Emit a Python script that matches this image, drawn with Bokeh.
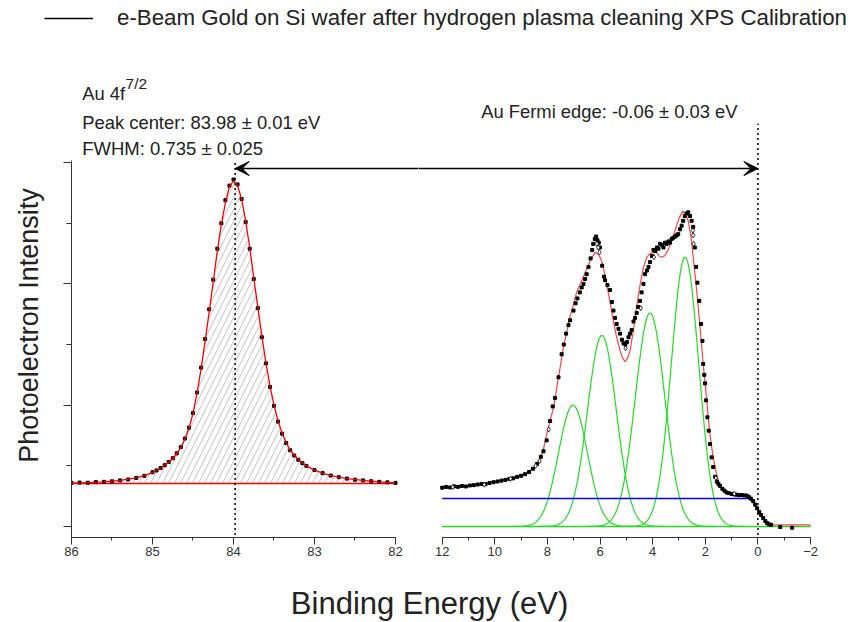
import numpy as np
from bokeh.plotting import figure
from bokeh.models import (Range1d, SingleIntervalTicker, Label, Arrow, VeeHead,
                          Legend, LegendItem)
from bokeh.layouts import column, row
from bokeh.embed import file_html
from bokeh.resources import INLINE

FONT = "Liberation Sans"
AXC = "#333333"

# ---------------- data ----------------
legend_label = "e-Beam Gold on Si wafer after hydrogen plasma cleaning XPS Calibration"

# Au 4f7/2 measured points (binding energy eV, intensity a.u.)
au4f_data = [(86.00, 0.360), (85.90, 0.362), (85.80, 0.361), (85.70, 0.366), (85.60, 0.368),
             (85.50, 0.372), (85.40, 0.380), (85.30, 0.388), (85.20, 0.400), (85.10, 0.418),
             (85.00, 0.447), (84.95, 0.462), (84.90, 0.482), (84.85, 0.505), (84.80, 0.532),
             (84.75, 0.563), (84.70, 0.603), (84.65, 0.655), (84.60, 0.725), (84.55, 0.815),
             (84.50, 0.935), (84.45, 1.105), (84.40, 1.310), (84.35, 1.545), (84.30, 1.790),
             (84.25, 2.035), (84.20, 2.290), (84.15, 2.500), (84.10, 2.690), (84.05, 2.810),
             (84.00, 2.860), (83.95, 2.820), (83.90, 2.700), (83.85, 2.510), (83.80, 2.290),
             (83.75, 2.040), (83.70, 1.800), (83.65, 1.560), (83.60, 1.345), (83.55, 1.150),
             (83.50, 0.995), (83.45, 0.865), (83.40, 0.765), (83.35, 0.688), (83.30, 0.628),
             (83.25, 0.585), (83.20, 0.550), (83.15, 0.522), (83.10, 0.500), (83.00, 0.466),
             (82.90, 0.440), (82.80, 0.420), (82.70, 0.406), (82.60, 0.395), (82.50, 0.386),
             (82.40, 0.380), (82.30, 0.373), (82.20, 0.368), (82.10, 0.364), (82.00, 0.360)]

# Au 4f7/2 fit curve (red)
au4f_fit = [(86.0, 0.357), (85.8, 0.362), (85.6, 0.368), (85.4, 0.380), (85.2, 0.400),
            (85.1, 0.420), (85.0, 0.445), (84.9, 0.480), (84.8, 0.530), (84.75, 0.560),
            (84.7, 0.600), (84.65, 0.650), (84.6, 0.720), (84.55, 0.810), (84.5, 0.930),
            (84.45, 1.100), (84.4, 1.300), (84.35, 1.530), (84.3, 1.770), (84.25, 2.020),
            (84.2, 2.270), (84.15, 2.490), (84.1, 2.670), (84.05, 2.800), (84.0, 2.850),
            (83.95, 2.810), (83.9, 2.700), (83.85, 2.520), (83.8, 2.300), (83.75, 2.050),
            (83.7, 1.810), (83.65, 1.570), (83.6, 1.350), (83.55, 1.160), (83.5, 1.000),
            (83.45, 0.870), (83.4, 0.770), (83.35, 0.690), (83.3, 0.630), (83.2, 0.550),
            (83.1, 0.500), (83.0, 0.465), (82.9, 0.440), (82.8, 0.420), (82.6, 0.395),
            (82.4, 0.380), (82.2, 0.368), (82.0, 0.360)]
au4f_baseline = 0.355
au4f_center = 83.98

# Valence band measured points
vb_data = [(12.00, 0.320), (11.85, 0.326), (11.70, 0.322), (11.55, 0.331), (11.40, 0.327),
           (11.25, 0.334), (11.10, 0.330), (10.95, 0.338), (10.80, 0.341), (10.65, 0.346),
           (10.50, 0.351), (10.35, 0.349), (10.20, 0.359), (10.05, 0.365), (9.90, 0.371),
           (9.75, 0.378), (9.60, 0.384), (9.45, 0.392), (9.30, 0.397), (9.15, 0.409),
           (9.00, 0.418), (8.85, 0.431), (8.70, 0.449), (8.55, 0.476), (8.40, 0.515),
           (8.25, 0.575), (8.15, 0.620), (8.03, 0.710), (7.90, 0.870), (7.80, 0.990),
           (7.71, 1.060), (7.58, 1.230), (7.46, 1.420), (7.38, 1.500), (7.29, 1.590),
           (7.20, 1.660), (7.14, 1.700), (7.01, 1.780), (6.93, 1.840), (6.86, 1.880),
           (6.77, 1.930), (6.70, 1.970), (6.63, 2.000), (6.57, 2.040), (6.51, 2.080),
           (6.44, 2.140), (6.36, 2.210), (6.30, 2.280), (6.26, 2.330), (6.20, 2.370),
           (6.15, 2.390), (6.10, 2.360), (6.05, 2.340), (6.00, 2.300), (5.92, 2.150),
           (5.85, 2.060), (5.81, 2.030), (5.72, 1.990), (5.62, 1.950), (5.55, 1.850),
           (5.49, 1.780), (5.43, 1.720), (5.37, 1.670), (5.30, 1.630), (5.24, 1.590),
           (5.17, 1.540), (5.11, 1.510), (5.04, 1.500), (4.98, 1.520), (4.92, 1.560),
           (4.86, 1.590), (4.80, 1.620), (4.73, 1.690), (4.67, 1.720), (4.61, 1.760),
           (4.55, 1.810), (4.48, 1.860), (4.42, 1.930), (4.35, 2.000), (4.29, 2.080),
           (4.22, 2.110), (4.16, 2.140), (4.10, 2.180), (4.03, 2.230), (3.97, 2.280),
           (3.90, 2.270), (3.84, 2.300), (3.78, 2.290), (3.72, 2.330), (3.65, 2.320),
           (3.59, 2.300), (3.53, 2.340), (3.47, 2.330), (3.40, 2.350), (3.34, 2.340),
           (3.28, 2.370), (3.22, 2.380), (3.15, 2.390), (3.09, 2.400), (3.03, 2.410),
           (2.96, 2.450), (2.90, 2.480), (2.84, 2.520), (2.78, 2.560), (2.71, 2.580),
           (2.65, 2.590), (2.58, 2.560), (2.52, 2.520), (2.46, 2.470), (2.40, 2.300),
           (2.35, 2.140), (2.30, 2.010), (2.23, 1.860), (2.16, 1.670), (2.11, 1.530),
           (2.08, 1.340), (2.04, 1.250), (2.01, 1.180), (1.97, 1.040), (1.92, 0.900),
           (1.87, 0.790), (1.82, 0.680), (1.76, 0.570), (1.70, 0.490), (1.63, 0.410),
           (1.56, 0.370), (1.50, 0.350), (1.44, 0.335), (1.35, 0.310), (1.27, 0.295),
           (1.19, 0.280), (1.10, 0.275), (1.00, 0.268), (0.90, 0.265), (0.81, 0.262),
           (0.72, 0.258), (0.62, 0.260), (0.52, 0.256), (0.43, 0.255), (0.35, 0.245),
           (0.27, 0.230), (0.18, 0.210), (0.10, 0.180), (0.03, 0.150), (-0.05, 0.120),
           (-0.12, 0.095), (-0.20, 0.070), (-0.28, 0.045), (-0.35, 0.028), (-0.42, 0.018),
           (-0.50, 0.014), (-0.85, -0.005), (-1.30, -0.010)]

# second (open diamond) points
vb_open = [(11.60, 0.325), (10.40, 0.345), (9.40, 0.393), (8.45, 0.500), (8.30, 0.540),
           (7.95, 0.800), (6.12, 2.330), (6.07, 2.300), (6.02, 2.260), (5.03, 1.470),
           (4.45, 1.800), (3.95, 2.220), (2.47, 2.440), (2.46, 2.400), (2.44, 2.330),
           (1.60, 0.400), (0.90, 0.270)]

# valence band fit envelope (red)
vb_fit = [(12.0, 0.324), (11.5, 0.328), (11.0, 0.336), (10.5, 0.350), (10.0, 0.368),
          (9.5, 0.390), (9.0, 0.420), (8.75, 0.445), (8.5, 0.490), (8.3, 0.550),
          (8.15, 0.640), (8.03, 0.760), (7.9, 0.870), (7.77, 0.980), (7.58, 1.230),
          (7.39, 1.480), (7.14, 1.730), (6.89, 1.930), (6.63, 2.060), (6.38, 2.190),
          (6.19, 2.260), (6.05, 2.240), (5.94, 2.190), (5.85, 2.110), (5.75, 2.000),
          (5.62, 1.850), (5.50, 1.700), (5.37, 1.560), (5.24, 1.450), (5.15, 1.390),
          (5.05, 1.360), (4.95, 1.390), (4.86, 1.450), (4.73, 1.620), (4.61, 1.810),
          (4.48, 1.990), (4.35, 2.140), (4.22, 2.220), (4.10, 2.250), (3.95, 2.260),
          (3.85, 2.260), (3.75, 2.230), (3.66, 2.220), (3.55, 2.230), (3.41, 2.280),
          (3.28, 2.360), (3.15, 2.440), (3.00, 2.540), (2.86, 2.600), (2.75, 2.580),
          (2.65, 2.520), (2.55, 2.400), (2.46, 2.220), (2.36, 2.020), (2.27, 1.810),
          (2.17, 1.570), (2.08, 1.340), (1.98, 1.120), (1.89, 0.900), (1.80, 0.720),
          (1.70, 0.570), (1.60, 0.460), (1.51, 0.380), (1.40, 0.330), (1.32, 0.300),
          (1.15, 0.275), (0.94, 0.260), (0.70, 0.255), (0.43, 0.250), (0.30, 0.235),
          (0.18, 0.200), (0.05, 0.150), (-0.05, 0.120), (-0.15, 0.085), (-0.25, 0.055),
          (-0.35, 0.030), (-0.45, 0.016), (-0.6, 0.014), (-1.0, 0.014), (-1.5, 0.014),
          (-2.0, 0.014)]

# Fermi-edge background (blue)
vb_bg = [(12.0, 0.230), (0.37, 0.230), (0.25, 0.215), (0.10, 0.175), (-0.05, 0.120),
         (-0.20, 0.070), (-0.32, 0.035), (-0.40, 0.016)]

# Gaussian components (green)
comp_center = [7.03, 5.93, 4.10, 2.77]
comp_height = [1.00, 1.575, 1.76, 2.22]
comp_sigma = [0.55, 0.55, 0.56, 0.52]
comp_range = (12.0, -2.0)

fermi_line_x = 0.0
left_ticks_interval = 1
right_ticks_interval = 2

au_label = "Au 4f"
au_sup = "7/2"
peak_text = "Peak center: 83.98 \u00b1 0.01 eV"
fwhm_text = "FWHM: 0.735 \u00b1 0.025"
fermi_text = "Au Fermi edge: -0.06 \u00b1 0.03 eV"
x_title = "Binding Energy (eV)"
y_title = "Photoelectron Intensity"

# ---------------- layout constants ----------------
Y_RANGE = (-0.0907, 3.924)
AXIS_TOP = 3.017
ARROW_Y = 2.951
DOT_BOTTOM = -0.07
LEFT_DOT_TOP = 3.017
RIGHT_DOT_TOP = 3.32
ARROW_OVERSHOOT = 0.6
PANEL_H = 517
TITLE_W = 45


def unzip(pairs):
    return [p[0] for p in pairs], [p[1] for p in pairs]


def style_xaxis(ax, bounds, interval):
    ax.bounds = bounds
    ax.ticker = SingleIntervalTicker(interval=interval, num_minor_ticks=2)
    ax.major_tick_out = 7
    ax.major_tick_in = 0
    ax.minor_tick_out = 3
    ax.minor_tick_in = 0
    ax.axis_line_color = AXC
    ax.major_tick_line_color = AXC
    ax.minor_tick_line_color = AXC
    ax.major_label_text_font = FONT
    ax.major_label_text_font_size = "13px"
    ax.major_label_text_color = AXC
    ax.major_label_standoff = 2


def base_fig(width, x_range, **kw):
    p = figure(width=width, height=PANEL_H, x_range=x_range, y_range=Range1d(*Y_RANGE),
               output_backend="svg", toolbar_location=None, min_border_top=0,
               min_border_bottom=30, min_border_right=0, outline_line_color=None,
               background_fill_color="white", border_fill_color="white", **kw)
    p.xgrid.visible = False
    p.ygrid.visible = False
    return p


# ---------------- y title strip ----------------
ytitle = base_fig(TITLE_W, Range1d(0, TITLE_W), min_border_left=0,
                  x_axis_location=None, y_axis_location=None)
ytitle.add_layout(Label(x=28, y=1.657, text=y_title, angle=np.pi / 2, text_font=FONT,
                        text_font_size="27px", text_color="#222222", text_align="center",
                        text_baseline="middle"))

# ---------------- left panel: Au 4f ----------------
left = base_fig(418 - TITLE_W, Range1d(86.0, 81.716), min_border_left=71 - TITLE_W)
style_xaxis(left.xaxis[0], (82, 86), left_ticks_interval)
ya = left.yaxis[0]
ya.bounds = (Y_RANGE[0], AXIS_TOP)
ya.ticker = SingleIntervalTicker(interval=1, num_minor_ticks=2)
ya.major_tick_out = 8
ya.major_tick_in = 0
ya.minor_tick_out = 5
ya.minor_tick_in = 0
ya.axis_line_color = AXC
ya.major_tick_line_color = AXC
ya.minor_tick_line_color = AXC
ya.major_label_text_color = None

fx, fy = unzip(au4f_fit)
dx, dy = unzip(au4f_data)
left.varea(x=fx, y1=au4f_baseline, y2=fy, fill_color=None, fill_alpha=0,
           hatch_pattern="/", hatch_color="#b8b8b8", hatch_scale=12, hatch_weight=0.8)
left.segment(x0=fx[0], y0=au4f_baseline, x1=fx[-1], y1=au4f_baseline,
             line_color="#ff0000", line_width=1.5)
left.segment(x0=au4f_center, y0=DOT_BOTTOM, x1=au4f_center, y1=LEFT_DOT_TOP,
             line_color="black", line_width=1.5, line_dash="2 3")
left.scatter(dx, dy, marker="square", size=3, fill_color="black", line_color="black")
left.line(fx, fy, line_color="#ff0000", line_width=1.3)
left.add_layout(Arrow(x_start=left.x_range.end - ARROW_OVERSHOOT, y_start=ARROW_Y,
                      x_end=au4f_center, y_end=ARROW_Y, line_width=1.5, line_color="black",
                      start=None, end=VeeHead(size=14, fill_color="black", line_color="black")))

# texts (left)
for txt, x, y, size in [(au_label, 85.868, 3.570, "18.4px"), (au_sup, 85.333, 3.652, "15.5px"),
                        (peak_text, 85.868, 3.333, "18.4px"), (fwhm_text, 85.868, 3.114, "18.5px")]:
    left.add_layout(Label(x=x, y=y, text=txt, text_font=FONT, text_font_size=size,
                          text_color="#222222", text_baseline="alphabetic"))

# ---------------- right panel: valence band ----------------
right = base_fig(435, Range1d(12.901, -3.633), min_border_left=0, y_axis_location=None)
style_xaxis(right.xaxis[0], (-2, 12), right_ticks_interval)

grid_e = np.linspace(comp_range[0], comp_range[1], 701)
right.segment(x0=comp_range[0], y0=0, x1=comp_range[1], y1=0, line_color="#22dd22", line_width=1.3)
for c, h, s in zip(comp_center, comp_height, comp_sigma):
    right.line(grid_e, h * np.exp(-0.5 * ((grid_e - c) / s) ** 2), line_color="#22dd22", line_width=1.2)
bx, by = unzip(vb_bg)
right.line(bx, by, line_color="#0000ff", line_width=1.5)
rx, ry = unzip(vb_fit)
right.line(rx, ry, line_color="#ff4444", line_width=1.2)
vx, vy = unzip(vb_data)
right.scatter(vx, vy, marker="square", size=3, fill_color="black", line_color="black")
ox, oy = unzip(vb_open)
right.scatter(ox, oy, marker="diamond", size=5, fill_color="white", line_color="black", line_width=0.8)
right.segment(x0=fermi_line_x, y0=DOT_BOTTOM, x1=fermi_line_x, y1=RIGHT_DOT_TOP,
              line_color="black", line_width=1.5, line_dash="2 3")
right.add_layout(Arrow(x_start=right.x_range.start + ARROW_OVERSHOOT, y_start=ARROW_Y,
                       x_end=fermi_line_x, y_end=ARROW_Y, line_width=1.5, line_color="black",
                       start=None, end=VeeHead(size=14, fill_color="black", line_color="black")))
right.add_layout(Label(x=10.52, y=3.421, text=fermi_text, text_font=FONT, text_font_size="18.4px",
                       text_color="#222222", text_baseline="alphabetic"))

# ---------------- top strip: legend ----------------
top = figure(width=853, height=50, x_range=Range1d(0, 1), y_range=Range1d(0, 1),
             output_backend="svg", toolbar_location=None, min_border=0,
             x_axis_location=None, y_axis_location=None, outline_line_color=None)
top.xgrid.visible = False
top.ygrid.visible = False
lr = top.line(x=[2, 3], y=[2, 2], line_color="black", line_width=1.5)
leg = Legend(items=[LegendItem(label=legend_label, renderers=[lr])], location=(44, 19),
             glyph_width=49, glyph_height=20, label_height=20, label_standoff=24,
             padding=0, margin=0, spacing=0, border_line_alpha=0, background_fill_alpha=0,
             label_text_font=FONT, label_text_font_size="22.3px", label_text_color="#222222")
top.add_layout(leg)

# ---------------- bottom strip: x title ----------------
bottom = figure(width=853, height=54, x_range=Range1d(0, 1), y_range=Range1d(0, 1),
                output_backend="svg", toolbar_location=None, min_border=0,
                x_axis_location=None, y_axis_location=None, outline_line_color=None)
bottom.xgrid.visible = False
bottom.ygrid.visible = False
bottom.add_layout(Label(x=0.503, y=0.33, text=x_title, text_font=FONT, text_font_size="31px",
                        text_color="#222222", text_align="center", text_baseline="middle"))

layout = column(top, row(ytitle, left, right, spacing=0), bottom, spacing=0)
open("out.html", "w").write(file_html(layout, INLINE))
